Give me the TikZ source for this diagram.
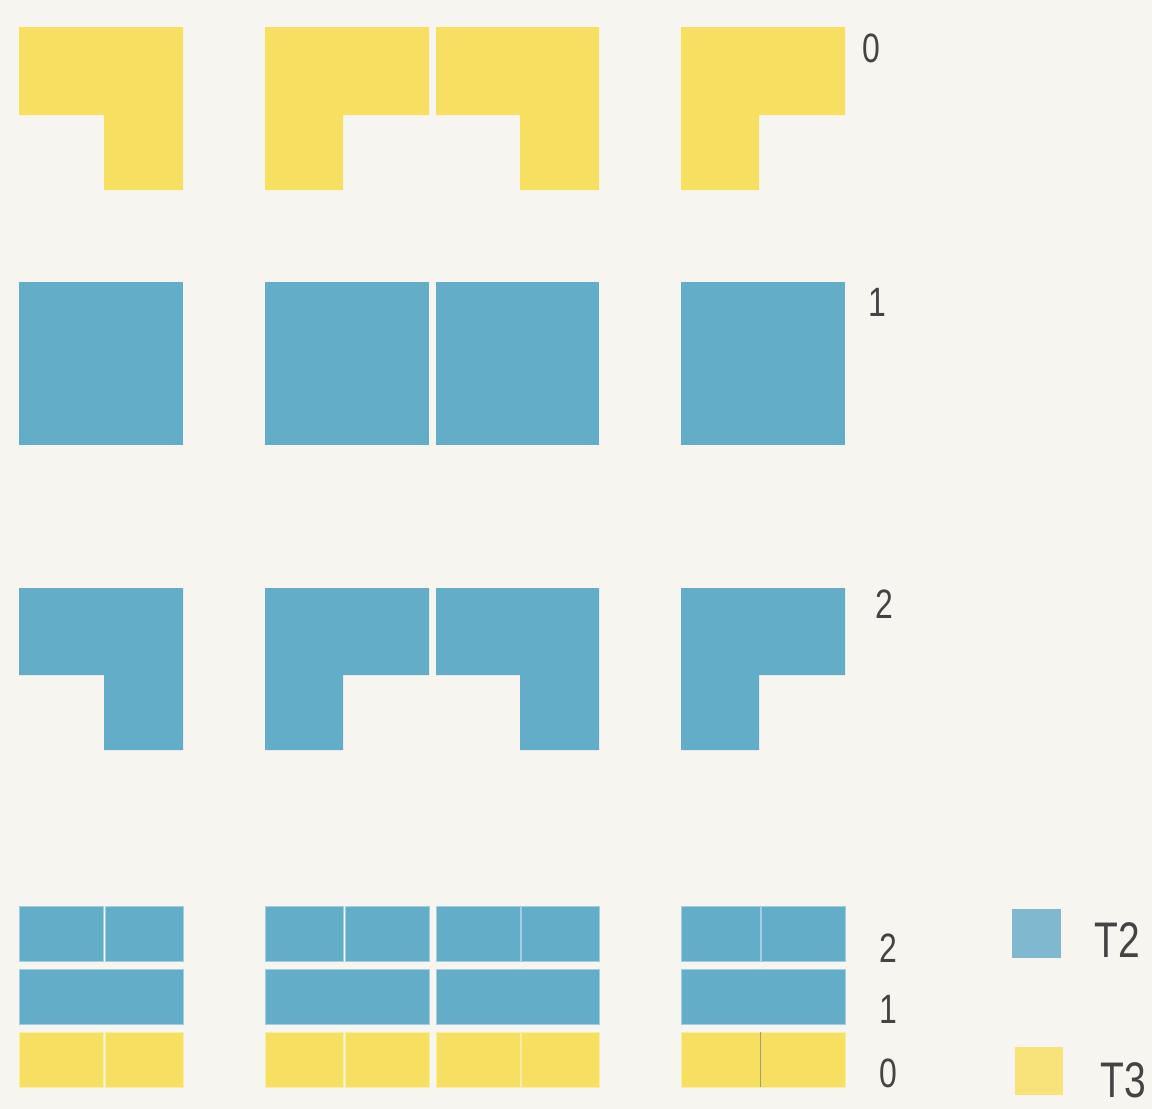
\documentclass[tikz,border=0pt]{standalone}
\usepackage{fontspec}
\setmainfont[FakeStretch=0.78]{Liberation Sans}
\definecolor{bg}{HTML}{F6F5F0}
\definecolor{yel}{HTML}{F7DF62}
\definecolor{blu}{HTML}{64ADC9}
\definecolor{legblu}{HTML}{7FB8CF}
\definecolor{legyel}{HTML}{F8E37A}
\definecolor{txt}{HTML}{444444}
\begin{document}
\begin{tikzpicture}[x=1pt,y=-1pt,
  lab/.style={inner sep=0pt,text=txt,font=\fontsize{41}{41}\selectfont},
  leglab/.style={inner sep=0pt,text=txt,font=\fontsize{50}{50}\selectfont},
  cellb/.style={fill=blu,draw=blu!60!white,line width=0.6pt},
  celly/.style={fill=yel,draw=yel!60!white,line width=0.6pt}]
\useasboundingbox[fill=bg] (0,0) rectangle (1152,1109);
% L-shaped rows: #1 = top, bar bottom, bottom, colour
\foreach \t/\m/\b/\c in {27/115/190/yel, 588/675/750/blu}{
  \fill[\c] (19,\t) -- (183,\t) -- (183,\b) -- (104,\b) -- (104,\m) -- (19,\m) -- cycle;
  \fill[\c] (265,\t) -- (429,\t) -- (429,\m) -- (343,\m) -- (343,\b) -- (265,\b) -- cycle;
  \fill[\c] (436,\t) -- (599,\t) -- (599,\b) -- (520,\b) -- (520,\m) -- (436,\m) -- cycle;
  \fill[\c] (681,\t) -- (845,\t) -- (845,\m) -- (759,\m) -- (759,\b) -- (681,\b) -- cycle;
}
% squares row
\foreach \x/\w in {19/183, 265/429, 436/599, 681/845}
  \fill[blu] (\x,282) rectangle (\w,445);
% bottom stacked rows
\foreach \x/\s/\w in {19/103.3/183, 265/343.5/429, 436/519.8/599, 681/759.8/845}{
  \draw[cellb] (\x,906) rectangle (\s,961);
  \draw[cellb] (\s+1.6,906) rectangle (\w,961);
  \draw[cellb] (\x,969) rectangle (\w,1024);
}
\foreach \x/\s/\w in {19/103.3/183, 265/343.5/429, 436/519.8/599}{
  \draw[celly] (\x,1032) rectangle (\s,1087);
  \draw[celly] (\s+1.6,1032) rectangle (\w,1087);
}
\draw[celly] (681,1032) rectangle (845,1087);
\draw[gray!70!yel,line width=1.2pt] (760.5,1032) -- (760.5,1087);
% row labels
\node[lab] (l0) at (871,48) {0};
\node[lab] (l1) at (877,302) {1};
\node[lab] (l2) at (884,604) {2};
\node[lab] (b2) at (888,948) {2};
\node[lab] (b1) at (888,1009) {1};
\node[lab] (b0) at (888,1073) {0};
% legend
\fill[legblu] (1012,909) rectangle (1061,958);
\fill[legyel] (1015,1047) rectangle (1063,1095);
\node[leglab] (t2) at (1117,940) {T2};
\node[leglab] (t3) at (1123,1080) {T3};
\end{tikzpicture}
\end{document}
